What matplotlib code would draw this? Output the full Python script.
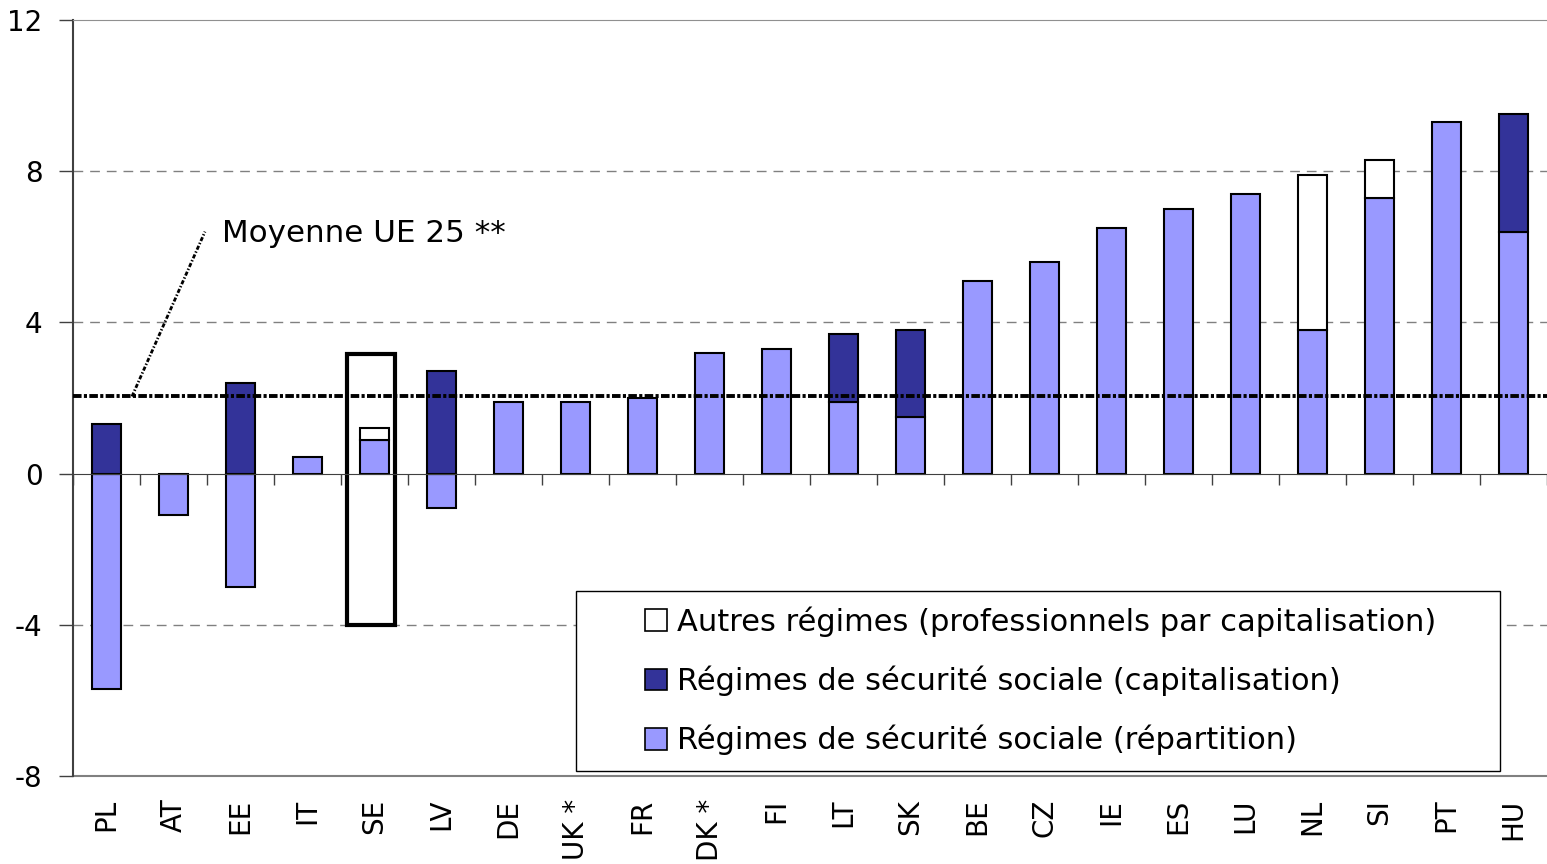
import numpy as np
import matplotlib.pyplot as plt
from matplotlib.patches import Rectangle, Patch
from matplotlib.transforms import blended_transform_factory

plt.rcParams['font.family'] = ['DejaVu Sans']

# Données
pays = ['PL', 'AT', 'EE', 'IT', 'SE', 'LV', 'DE', 'UK *', 'FR', 'DK *', 'FI',
        'LT', 'SK', 'BE', 'CZ', 'IE', 'ES', 'LU', 'NL', 'SI', 'PT', 'HU']
repartition = [-5.7, -1.1, -3.0, 0.45, 0.9, -0.9, 1.9, 1.9, 2.0, 3.2, 3.3,
               1.9, 1.5, 5.1, 5.6, 6.5, 7.0, 7.4, 3.8, 7.3, 9.3, 6.4]
capitalisation = [1.3, 0, 2.4, 0, 0, 2.7, 0, 0, 0, 0, 0,
                  1.8, 2.3, 0, 0, 0, 0, 0, 0, 0, 0, 3.1]
autres = [0, 0, 0, 0, 0.3, 0, 0, 0, 0, 0, 0,
          0, 0, 0, 0, 0, 0, 0, 4.1, 1.0, 0, 0]
se_total_haut = 3.15
se_total_bas = -4.0
moyenne_ue25 = 2.04
yticks = [-8, -4, 0, 4, 8, 12]

c_rep = '#9999FF'
c_cap = '#333399'

fig = plt.figure(figsize=(15.47, 8.64), dpi=100)
ax = fig.add_axes([0.0472, 0.1019, 0.9528, 0.8750])

x = np.arange(len(pays))
rep = np.array(repartition)
cap = np.array(capitalisation)
aut = np.array(autres)
w = 0.42

base_cap = np.maximum(rep, 0)
base_aut = base_cap + cap

ax.bar(x, rep, w, color=c_rep, edgecolor='black', linewidth=1.5, zorder=3)
m = cap != 0
ax.bar(x[m], cap[m], w, bottom=base_cap[m], color=c_cap, edgecolor='black',
       linewidth=1.5, zorder=3)
m = aut != 0
ax.bar(x[m], aut[m], w, bottom=base_aut[m], color='white', edgecolor='black',
       linewidth=1.5, zorder=3)

# cadre SE
i_se = pays.index('SE')
ax.bar(i_se - 0.05, se_total_haut - se_total_bas, 0.72, bottom=se_total_bas,
       facecolor='none', edgecolor='black', linewidth=3, zorder=2)

# moyenne UE 25
ax.axhline(moyenne_ue25, color='black', linewidth=2.8,
           linestyle=(0, (2.2, 0.6, 0.8, 0.6)), zorder=4)
ax.plot([0.38, 1.47], [moyenne_ue25, 6.4], color='black', lw=2,
        linestyle=(0, (1.5, 0.7, 0.5, 0.7)), zorder=4)
ax.text(1.72, 6.35, 'Moyenne UE 25 **', fontsize=22.3, va='center', ha='left')

ax.set_xlim(-0.5, len(pays) - 0.5)
ax.set_ylim(-8, 12)
ax.set_yticks(yticks)
ax.set_yticklabels([str(v) for v in yticks], fontsize=20)
ax.tick_params(axis='y', length=10, width=1, color='#404040', pad=12)

for v in [-4, 4, 8]:
    ax.axhline(v, color='#808080', linewidth=1, linestyle=(0, (7, 5)), zorder=1)
ax.axhline(-8, color='#808080', linewidth=1.5, zorder=1, clip_on=False)

ax.spines['right'].set_visible(False)
ax.spines['top'].set_color('#909090')
ax.spines['left'].set_color('#404040')
ax.spines['left'].set_linewidth(1.5)
ax.spines['bottom'].set_position(('data', 0))
ax.spines['bottom'].set_color('#404040')
ax.spines['bottom'].set_zorder(4)

ax.set_xticks(np.arange(len(pays) + 1) - 0.5)
ax.set_xticklabels([])
ax.tick_params(axis='x', length=8, width=1, color='#404040')

trans = blended_transform_factory(ax.transData, ax.transAxes)
for xi, p in zip(x, pays):
    ax.text(xi, -0.03, p, rotation=90, ha='center', va='top', fontsize=20,
            transform=trans)

# légende
ax.add_patch(Rectangle((0.341, 0.0066), 0.627, 0.2381, transform=ax.transAxes,
                       facecolor='white', edgecolor='black', linewidth=1,
                       zorder=6))
handles = [Patch(facecolor='white', edgecolor='black', linewidth=1.2),
           Patch(facecolor=c_cap, edgecolor='black', linewidth=1.2),
           Patch(facecolor=c_rep, edgecolor='black', linewidth=1.2)]
labels = ['Autres régimes (professionnels par capitalisation)',
          'Régimes de sécurité sociale (capitalisation)',
          'Régimes de sécurité sociale (répartition)']
leg = ax.legend(handles, labels, loc='center left', bbox_to_anchor=(0.378, 0.1257),
                frameon=False, fontsize=22, handlelength=0.72, handleheight=0.72,
                handletextpad=0.3, labelspacing=0.94, borderpad=0)
leg.set_zorder(7)

plt.savefig('out.png', dpi=100)
